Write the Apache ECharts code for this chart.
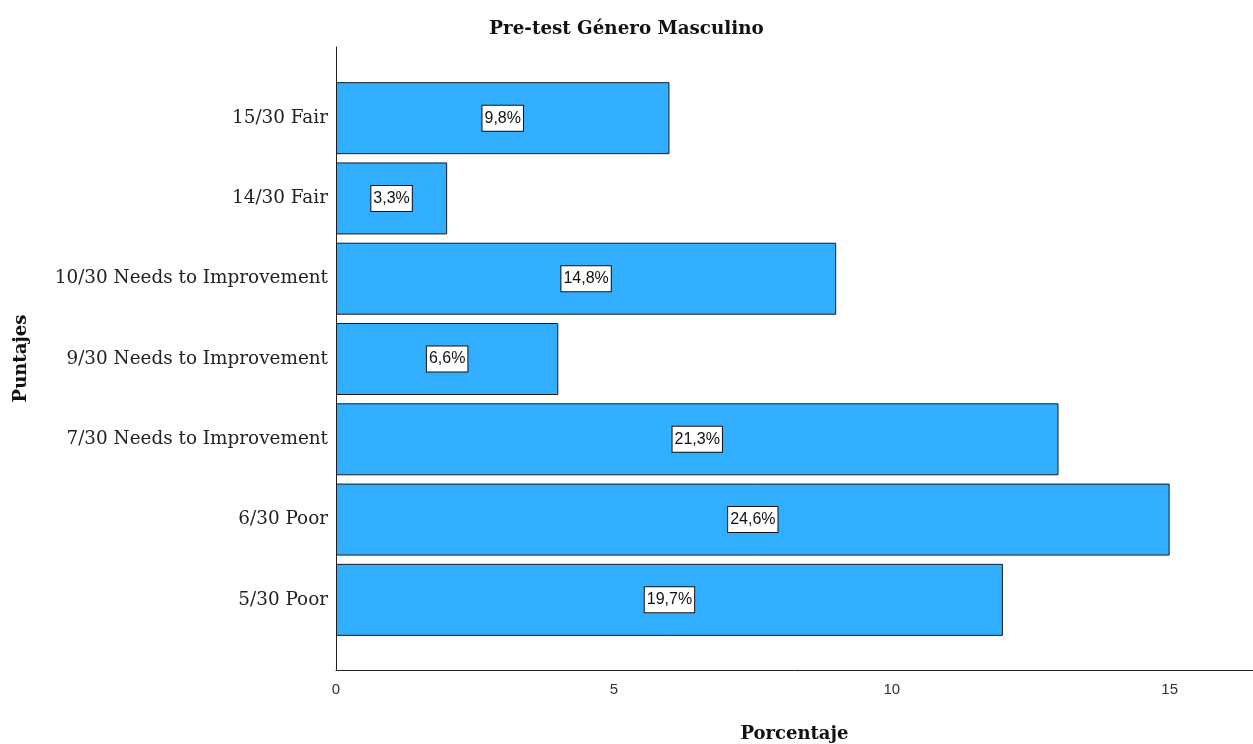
<!DOCTYPE html>
<html><head><meta charset="utf-8">
<script src="https://cdn.jsdelivr.net/npm/echarts@6/dist/echarts.min.js"></script>
<style>html,body{margin:0;padding:0;background:#fff}#c{width:1253px;height:744px}</style>
</head><body><div id="c"></div>
<script>
var categories = ['5/30 Poor','6/30 Poor','7/30 Needs to Improvement','9/30 Needs to Improvement','10/30 Needs to Improvement','14/30 Fair','15/30 Fair'];
var counts = [12, 15, 13, 4, 9, 2, 6];
var percentLabels = ['19,7%','24,6%','21,3%','6,6%','14,8%','3,3%','9,8%'];
var xTicks = [0, 5, 10, 15];
var xMax = 16.5;

var chart = echarts.init(document.getElementById('c'));
var serif = '"DejaVu Serif","Liberation Serif",serif';
var sans = '"Liberation Sans",Arial,sans-serif';
chart.setOption({
  animation: false,
  title: {text: 'Pre-test Género Masculino', left: 'center', top: 15,
    textStyle: {fontFamily: serif, fontWeight: 'bold', fontSize: 18.3, color: '#111'}},
  grid: [
    {left: 336, right: 0, top: 47, bottom: 74, outerBoundsMode: 'none', containLabel: false},
    {left: 336, right: 0, top: 78, bottom: 104, outerBoundsMode: 'none', containLabel: false}
  ],
  xAxis: [
    {gridIndex: 0, type: 'value', min: 0, max: xMax, interval: 5,
     axisLine: {show: true, onZero: false, lineStyle: {color: '#222', width: 1}},
     axisTick: {show: false}, splitLine: {show: false},
     axisLabel: {color: '#333', fontFamily: sans, fontSize: 15, margin: 12,
       formatter: function(v){ return xTicks.indexOf(v) >= 0 ? String(v) : ''; }},
     name: 'Porcentaje', nameLocation: 'middle', nameGap: 55,
     nameTextStyle: {fontFamily: serif, fontWeight: 'bold', fontSize: 18, color: '#111'}},
    {gridIndex: 1, type: 'value', min: 0, max: xMax, show: false}
  ],
  yAxis: [
    {gridIndex: 0, type: 'value', min: 0, max: 1,
     axisLine: {show: true, onZero: false, lineStyle: {color: '#222', width: 1}},
     axisTick: {show: false}, axisLabel: {show: false}, splitLine: {show: false},
     name: 'Puntajes', nameLocation: 'middle', nameGap: 306, nameRotate: 90,
     nameTextStyle: {fontFamily: serif, fontWeight: 'bold', fontSize: 18, color: '#111'}},
    {gridIndex: 1, type: 'category', data: categories,
     axisLine: {show: false}, axisTick: {show: false},
     axisLabel: {fontFamily: serif, fontSize: 18.4, color: '#222', margin: 8}}
  ],
  series: [{
    type: 'bar', xAxisIndex: 1, yAxisIndex: 1, data: counts, barWidth: 72,
    itemStyle: {color: '#31aeff', borderColor: '#1a1a1a', borderWidth: 1},
    label: {show: true, position: 'inside',
      formatter: function(p){ return percentLabels[p.dataIndex]; },
      fontFamily: sans, fontSize: 16, color: '#111', backgroundColor: '#fff',
      borderColor: '#111', borderWidth: 1, padding: [5, 2, 4, 2]}
  }]
});
</script></body></html>
